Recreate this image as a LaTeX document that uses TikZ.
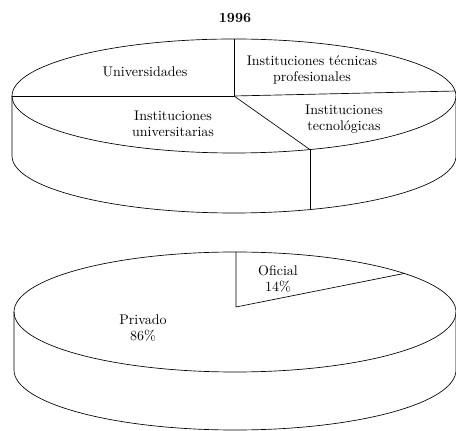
\documentclass[tikz,border=0pt]{standalone}
\begin{document}
\begin{tikzpicture}[x=0.75pt, y=0.75pt, line width=0.5pt,
    every node/.style={align=center, font=\fontsize{10.5}{12}\selectfont}]
    \useasboundingbox (0,0) rectangle (456,431);
    % 1996
    \node (titulo) at (235,413) {\bfseries 1996};
    \coordinate (o1) at (234,335);
    \draw (o1) ellipse [x radius=222, y radius=57];
    \draw (12,335) -- (12,275) arc [start angle=180, end angle=360, x radius=222, y radius=57] -- (456,335);
    \foreach \a/\n in {90/u, 180/l, 5/r, -70/d}
        \path (o1) ++(\a:222 and 57) coordinate (p\n);
    \foreach \n in {u,l,r,d}
        \draw (o1) -- (p\n);
    \path (pd) ++(0,-60) coordinate (q);
    \draw (pd) -- (q);
    \node (univ) at (145,359) {Universidades};
    \node (tec) at (312,361) {Instituciones técnicas\\profesionales};
    \node (iu) at (173,307) {Instituciones\\universitarias};
    \node (it) at (344,312) {Instituciones\\tecnológicas};
    % sector
    \coordinate (o2) at (235,119);
    \coordinate (c2) at (236,124);
    \draw (o2) ellipse [x radius=221, y radius=60];
    \draw (14,119) -- (14,61) arc [start angle=180, end angle=360, x radius=221, y radius=60] -- (456,119);
    \path (o2) ++(90:221 and 60) coordinate (s1);
    \path (o2) ++(40:221 and 60) coordinate (s2);
    \draw (c2 |- s1) -- (c2) -- (s2);
    \node (ofi) at (278,152) {Oficial\\14\%};
    \node (pri) at (143,103) {Privado\\86\%};
\end{tikzpicture}
\end{document}
